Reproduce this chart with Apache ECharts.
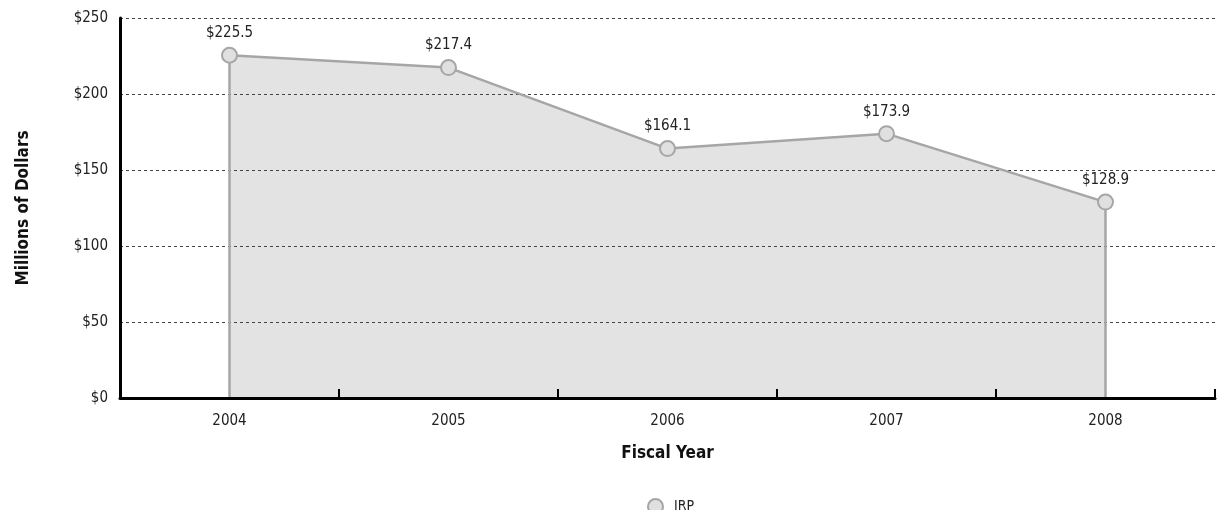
<!DOCTYPE html>
<html>
<head>
<meta charset="utf-8">
<script src="https://cdn.jsdelivr.net/npm/echarts@6/dist/echarts.min.js"></script>
<style>
  html, body { margin: 0; padding: 0; background: #fff; }
  #chart { width: 1220px; height: 510px; }
</style>
</head>
<body>
<div id="chart"></div>
<script>
// Fiscal years and IRP funding (millions of dollars)
const years = ['2004', '2005', '2006', '2007', '2008'];
const irpValues = [225.5, 217.4, 164.1, 173.9, 128.9];
const seriesName = 'IRP';

const FONT = '"Liberation Sans Narrow", "DejaVu Sans Condensed", "Roboto Condensed", Arial, sans-serif';
const LINE_GREY = '#a6a6a6';
const lastIdx = irpValues.length - 1;

const chart = echarts.init(document.getElementById('chart'));
chart.setOption({
  animation: false,
  textStyle: { fontFamily: FONT },
  grid: { left: 120, right: 5, top: 18, bottom: 112 },
  legend: {
    data: [{ name: seriesName, icon: 'circle' }],
    top: 493,
    left: 642,
    itemWidth: 15,
    itemHeight: 15,
    itemGap: 10,
    itemStyle: { color: '#e0e0e0', borderColor: LINE_GREY, borderWidth: 2 },
    textStyle: { fontFamily: FONT, fontSize: 14, color: '#222', padding: [0, 0, 0, 6] }
  },
  xAxis: {
    type: 'category',
    data: years,
    boundaryGap: true,
    z: 6,
    name: 'Fiscal Year',
    nameLocation: 'middle',
    nameGap: 47,
    nameTextStyle: { fontFamily: FONT, fontSize: 17, fontWeight: 'bold', color: '#111' },
    axisLine: { lineStyle: { color: '#000', width: 3 } },
    axisTick: { show: true, inside: true, length: 9, lineStyle: { color: '#000', width: 2 } },
    axisLabel: { fontFamily: FONT, fontSize: 15, color: '#222', margin: 16 },
    splitLine: { show: false }
  },
  yAxis: {
    type: 'value',
    min: 0,
    max: 250,
    interval: 50,
    z: 3,
    name: 'Millions of Dollars',
    nameLocation: 'middle',
    nameGap: 88,
    nameTextStyle: { fontFamily: FONT, fontSize: 17, fontWeight: 'bold', color: '#111' },
    axisLine: { show: true, lineStyle: { color: '#000', width: 3 } },
    axisTick: { show: false },
    axisLabel: { fontFamily: FONT, fontSize: 15, color: '#222', margin: 12, formatter: v => '$' + v },
    splitLine: { lineStyle: { color: '#444', type: [3, 3], width: 1 } }
  },
  series: [
    {
      // shaded region under the funding line, drawn beneath the gridlines
      name: 'IRP area',
      type: 'line',
      data: irpValues,
      symbol: 'none',
      lineStyle: { width: 0 },
      areaStyle: { color: '#e3e3e3', opacity: 1 },
      silent: true,
      z: 1
    },
    {
      name: seriesName,
      type: 'line',
      data: irpValues,
      symbol: 'circle',
      symbolSize: 15,
      itemStyle: { color: '#e0e0e0', borderColor: LINE_GREY, borderWidth: 2 },
      lineStyle: { color: LINE_GREY, width: 2.5 },
      label: {
        show: true,
        position: 'top',
        distance: 6,
        fontFamily: FONT,
        fontSize: 15,
        color: '#222',
        formatter: p => '$' + p.value.toFixed(1)
      },
      markLine: {
        silent: true,
        symbol: ['none', 'none'],
        label: { show: false },
        lineStyle: { color: LINE_GREY, width: 2.5, type: 'solid' },
        data: [
          [{ coord: [0, 0] }, { coord: [0, irpValues[0]] }],
          [{ coord: [lastIdx, 0] }, { coord: [lastIdx, irpValues[lastIdx]] }]
        ]
      },
      z: 5
    }
  ]
});
</script>
</body>
</html>
